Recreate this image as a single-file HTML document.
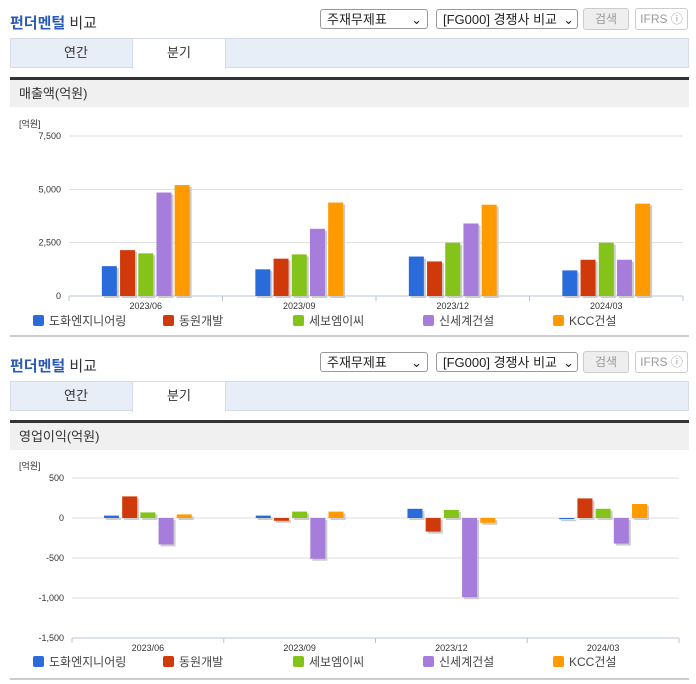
<!DOCTYPE html>
<html><head><meta charset="utf-8"><style>
body{margin:0;width:696px;height:684px;background:#fff;font-family:"Liberation Sans","Noto Sans CJK KR",sans-serif;position:relative;overflow:hidden}
.abs{position:absolute}
.title{font-size:15px;font-weight:normal;color:#333}
.title b{color:#2a5bb7}
.sel{border:1px solid #999;border-radius:3px;height:20px;font-size:13px;line-height:20px;padding-left:6px;box-sizing:border-box;background:#fff;color:#222}
.btn{border:1px solid #ccc;border-radius:3px;height:22px;font-size:12px;line-height:20px;text-align:center;color:#999;box-sizing:border-box}
.tabs{left:10px;width:679px;height:30px;background:#e8eef7;border:1px solid #d5dce8;box-sizing:border-box}
.tab{position:absolute;top:0;height:29px;line-height:28px;font-size:13px;text-align:center;width:92px;color:#333}
.sec{left:10px;width:679px;height:30px;background:#f0f0f0;border-top:3px solid #333;box-sizing:border-box;font-size:13px;line-height:28px;padding-left:9px;color:#333}
.bot{left:10px;width:679px;height:2px;background:#ccc}
svg text{font-family:"Liberation Sans","Noto Sans CJK KR",sans-serif}
</style></head><body>
<div>
<div class="abs title" style="left:10px;top:12px"><b>펀더멘털</b> 비교</div>
<div class="abs sel" style="left:320px;top:9px;width:108px">주재무제표 <span style="float:right;padding-right:5px">⌄</span></div>
<div class="abs sel" style="left:436px;top:9px;width:142px">[FG000] 경쟁사 비교 <span style="float:right;padding-right:3px">⌄</span></div>
<div class="abs btn" style="left:583px;top:8px;width:46px;background:#eee">검색</div>
<div class="abs btn" style="left:635px;top:8px;width:53px">IFRS ⓘ</div>
<div class="abs tabs" style="top:38px">
<div class="tab" style="left:19px">연간</div>
<div class="tab" style="left:121px;background:#fff;border-left:1px solid #d5dce8;border-right:1px solid #d5dce8;height:30px">분기</div>
</div>
<div class="abs sec" style="top:77px">매출액(억원)</div>
</div>
<svg class="abs" id="c1" style="left:0;top:0" width="696" height="684"></svg>
<div class="abs bot" style="top:335px"></div>

<div>
<div class="abs title" style="left:10px;top:355px"><b>펀더멘털</b> 비교</div>
<div class="abs sel" style="left:320px;top:352px;width:108px">주재무제표 <span style="float:right;padding-right:5px">⌄</span></div>
<div class="abs sel" style="left:436px;top:352px;width:142px">[FG000] 경쟁사 비교 <span style="float:right;padding-right:3px">⌄</span></div>
<div class="abs btn" style="left:583px;top:351px;width:46px;background:#eee">검색</div>
<div class="abs btn" style="left:635px;top:351px;width:53px">IFRS ⓘ</div>
<div class="abs tabs" style="top:381px">
<div class="tab" style="left:19px">연간</div>
<div class="tab" style="left:121px;background:#fff;border-left:1px solid #d5dce8;border-right:1px solid #d5dce8;height:30px">분기</div>
</div>
<div class="abs sec" style="top:420px">영업이익(억원)</div>
</div>
<div class="abs bot" style="top:678px"></div>

<script>
const categories=["2023/06","2023/09","2023/12","2024/03"];
const seriesNames=["도화엔지니어링","동원개발","세보엠이씨","신세계건설","KCC건설"];
const colors=["#2a6bdc","#d03a0b","#84c31a","#a77ddb","#ff9a00"];
const revDohwa=[1400,1250,1850,1200];
const revDongwon=[2150,1750,1620,1700];
const revSebo=[2000,1950,2500,2500];
const revShinsegae=[4850,3150,3400,1700];
const revKcc=[5200,4380,4280,4330];
const revTicks=[0,2500,5000,7500];
const opDohwa=[30,30,115,-15];
const opDongwon=[270,-35,-170,245];
const opSebo=[70,80,100,115];
const opShinsegae=[-330,-510,-990,-320];
const opKcc=[45,80,-60,175];
const opTicks=[500,0,-500,-1000,-1500];

const svg=document.getElementById('c1');
const NS="http://www.w3.org/2000/svg";
function mk(t,a,txt){const e=document.createElementNS(NS,t);for(const k in a)e.setAttribute(k,a[k]);if(txt!==undefined)e.textContent=txt;svg.appendChild(e);return e;}
function fmt(v){return v.toLocaleString('en-US');}
function chart(o){
  const y=v=>o.y0-(v-o.min)/(o.max-o.min)*(o.y0-o.y1);
  let t=mk('text',{x:19,y:o.y1-9,'font-size':9,fill:'#333'},'[억원]');
  
  
  o.ticks.forEach(v=>{
    const l=mk('line',{x1:o.x0,x2:o.x1,y1:y(v),y2:y(v),stroke:'#ddd'});
    
    
    const tx=mk('text',{x:o.x0-8,y:y(v)+3,'font-size':9,'text-anchor':'end',fill:'#333'},fmt(v));
    
    
  });
  const ax=mk('line',{x1:o.x0,x2:o.x1,y1:o.y0,y2:o.y0,stroke:'#b8c4d6'});
  
  
  const gw=(o.x1-o.x0)/categories.length;
  for(let i=0;i<=categories.length;i++){
    const tk=mk('line',{x1:o.x0+i*gw,x2:o.x0+i*gw,y1:o.y0,y2:o.y0+5,stroke:'#b8c4d6'});
    
    
  }
  const bw=15,pitch=18.2;
  categories.forEach((c,i)=>{
    const cx=o.x0+gw*(i+0.5);
    const lb=mk('text',{x:cx,y:o.y0+13,'font-size':9,'text-anchor':'middle',fill:'#333'},c);
    
    
    o.series.forEach((s,j)=>{
      const v=s[i];
      const bx=cx+(j-2)*pitch-bw/2;
      const yt=Math.min(y(v),y(0)),h=Math.max(Math.abs(y(v)-y(0)),1);
      const sh=mk('rect',{x:bx+2,y:yt+2,width:bw,height:h,fill:'#ccc'});
      
      
      const r=mk('rect',{x:bx,y:yt,width:bw,height:h,fill:colors[j]});
      
      
    });
  });
  seriesNames.forEach((n,j)=>{
    const lx=33+j*130;
    const sq=mk('rect',{x:lx,y:o.ly-6,width:11,height:11,rx:2,fill:colors[j]});
    
    
    const lt=mk('text',{x:lx+16,y:o.ly+4,'font-size':12,fill:'#444'},n);
    
    
  });
}
chart({id:'revenue',x0:69,x1:683,y0:296,y1:136,min:0,max:7500,ticks:revTicks,ly:321,
  series:[revDohwa,revDongwon,revSebo,revShinsegae,revKcc]});
chart({id:'op-income',x0:72,x1:679,y0:638,y1:478,min:-1500,max:500,ticks:opTicks,ly:662,
  series:[opDohwa,opDongwon,opSebo,opShinsegae,opKcc]});
</script>
</body></html>
